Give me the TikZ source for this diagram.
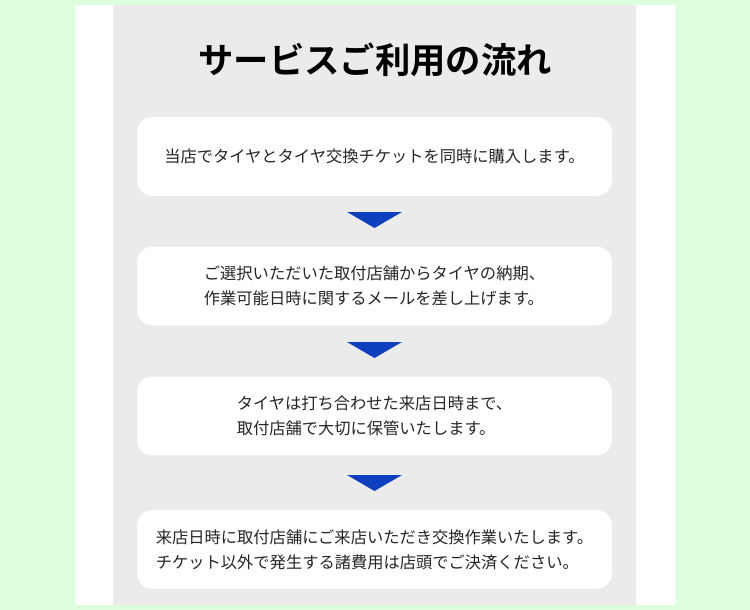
\documentclass[tikz,border=0pt]{standalone}
\usepackage{fontspec}
\newfontfamily\cjk{Noto Sans CJK JP}
\newfontfamily\cjkbold{Noto Sans CJK JP Bold}
\definecolor{bggreen}{HTML}{DDFFDD}
\definecolor{panelgray}{HTML}{EBEBEB}
\definecolor{arrowblue}{HTML}{0E3FBF}
\tikzset{
  stepbox/.style={fill=white, rounded corners=11.25pt, minimum width=356pt, minimum height=59pt, inner sep=0pt, align=left, font=\cjk\fontsize{12.2}{18.75}\selectfont, text=black!85},
  downtri/.style={fill=arrowblue, draw=none}
}
\begin{document}
\begin{tikzpicture}[x=0.75pt,y=-0.75pt]
\useasboundingbox (0,0) rectangle (750,610);
\fill[bggreen] (0,0) rectangle (750,610);
\fill[white] (75,5) rectangle (675,605);
\fill[panelgray] (113,5) rectangle (636,605);
\node[font=\cjkbold\fontsize{26.5}{30}\selectfont] (title) at (375,60) {サービスご利用の流れ};
\node[stepbox] (s1) at (374.5,156.5) {当店でタイヤとタイヤ交換チケットを同時に購入します。};
\node[stepbox] (s2) at (374.5,286) {ご選択いただいた取付店舗からタイヤの納期、\\作業可能日時に関するメールを差し上げます。};
\node[stepbox] (s3) at (374.5,416) {タイヤは打ち合わせた来店日時まで、\\取付店舗で大切に保管いたします。};
\node[stepbox] (s4) at (374.5,549.5) {来店日時に取付店舗にご来店いただき交換作業いたします。\\チケット以外で発生する諸費用は店頭でご決済ください。};
\coordinate (a1) at (374.5,212);
\coordinate (a2) at (374.5,342);
\coordinate (a3) at (374.5,475);
\foreach \a in {a1,a2,a3}{
  \fill[downtri] ([xshift=-20.6pt]\a) -- ([xshift=20.6pt]\a) -- ([yshift=-12pt]\a) -- cycle;
}
\end{tikzpicture}
\end{document}
